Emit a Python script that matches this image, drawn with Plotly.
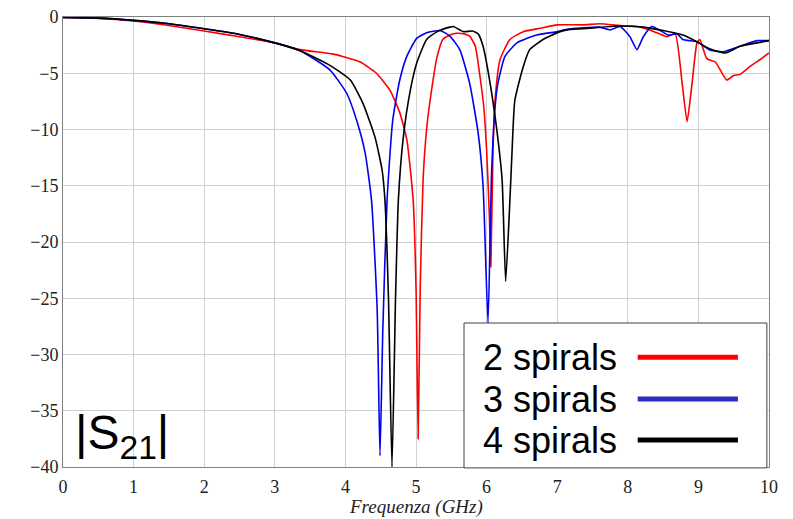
import plotly.graph_objects as go

# ---------------- data ----------------
freq_2 = [0, 0.5, 1, 1.5, 2, 2.5, 3, 3.36, 3.83, 4.21, 4.44, 4.63, 4.77, 4.87, 4.96, 5.0, 5.03,
          5.06, 5.10, 5.15, 5.2, 5.3, 5.38, 5.48, 5.58, 5.68, 5.76, 5.84, 5.9, 5.96, 6.0, 6.04,
          6.06, 6.09, 6.12, 6.19, 6.33, 6.52, 6.76, 7.0, 7.37, 7.6, 7.93, 8.13, 8.31, 8.45, 8.55,
          8.67, 8.77, 8.84, 8.91, 8.98, 9.02, 9.12, 9.24, 9.4, 9.5, 9.59, 9.73, 9.87, 10]
s21_2 = [-0.05, -0.12, -0.35, -0.75, -1.25, -1.75, -2.3, -2.9, -3.3, -4.0, -5.0, -6.5, -8.5, -10.9,
         -16.3, -24, -37.5, -24, -14.5, -10, -7.4, -3.5, -2.0, -1.6, -1.45, -1.5, -1.7, -2.6, -5.0,
         -8.0, -11.8, -17.8, -22.2, -12, -7.4, -3.8, -2.0, -1.3, -1.0, -0.7, -0.7, -0.6, -0.8,
         -0.85, -1.15, -1.5, -1.75, -1.5, -5.9, -9.3, -5.9, -2.3, -2.0, -3.7, -4.0, -5.6, -5.2,
         -5.1, -4.4, -3.8, -3.2]

freq_3 = [0, 0.5, 1, 1.5, 2, 2.5, 3, 3.36, 3.78, 4.02, 4.16, 4.28, 4.37, 4.45, 4.49, 4.53, 4.59,
          4.67, 4.77, 4.87, 5.01, 5.15, 5.34, 5.48, 5.62, 5.76, 5.88, 5.95, 6.02, 6.07, 6.12, 6.16,
          6.26, 6.43, 6.71, 7.0, 7.14, 7.6, 7.75, 7.89, 8.03, 8.13, 8.22, 8.34, 8.46, 8.57, 8.7,
          8.78, 8.98, 9.15, 9.35, 9.59, 9.83, 10]
s21_3 = [-0.05, -0.1, -0.3, -0.6, -1.05, -1.55, -2.3, -3.0, -4.7, -6.8, -9.2, -12.1, -16.3, -26,
         -39, -27.8, -16.3, -9.2, -5.6, -3.5, -1.9, -1.4, -1.2, -1.7, -2.9, -5.9, -10.3, -15,
         -27.2, -14, -8, -5.9, -3.5, -2.3, -1.6, -1.3, -1.1, -0.9, -1.15, -0.85, -1.75, -2.9,
         -1.75, -0.85, -1.2, -1.6, -1.5, -2.0, -2.2, -2.9, -3.1, -2.6, -2.1, -2.1]

freq_4 = [0, 0.5, 1, 1.5, 2, 2.5, 3, 3.36, 3.78, 4.07, 4.25, 4.42, 4.52, 4.56, 4.61, 4.66, 4.71,
          4.75, 4.82, 4.92, 5.01, 5.15, 5.3, 5.48, 5.53, 5.67, 5.8, 5.88, 5.95, 6.05, 6.15, 6.22,
          6.27, 6.33, 6.36, 6.4, 6.52, 6.61, 6.8, 7.04, 7.18, 7.46, 7.85, 8.22, 8.5, 8.78, 8.98,
          9.15, 9.38, 9.59, 9.83, 10]
s21_4 = [-0.05, -0.1, -0.3, -0.6, -1.05, -1.55, -2.3, -3.0, -4.3, -5.6, -7.7, -10.7, -13.6, -16.3,
         -25, -40, -25, -16.3, -10.7, -6.5, -4.1, -2.0, -1.3, -0.9, -0.85, -1.3, -1.25, -1.5, -2.6,
         -5.9, -10.3, -14.5, -23.5, -16.3, -12, -7.4, -4.4, -2.9, -2.0, -1.3, -1.1, -1.0, -0.8,
         -0.9, -1.2, -1.6, -2.2, -2.8, -3.2, -2.6, -2.3, -2.1]

series_names = ["2 spirals", "3 spirals", "4 spirals"]
line_colors = ["#ff0000", "#0000ee", "#000000"]
legend_colors = ["#ff0000", "#2f2fbf", "#000000"]

x_ticks = list(range(0, 11))
y_ticks = list(range(-40, 1, 5))

# ---------------- figure ----------------
fig = go.Figure()
for fx, fy, name, col in zip([freq_2, freq_3, freq_4], [s21_2, s21_3, s21_4], series_names, line_colors):
    fig.add_trace(go.Scatter(x=fx, y=fy, mode="lines", name=name,
                             line=dict(color=col, width=1.6, shape="spline", smoothing=0.5),
                             showlegend=False))

serif = "Liberation Serif, DejaVu Serif, serif"
tick_font = dict(family=serif, size=18, color="#222222")
fig.update_layout(
    width=793, height=519,
    margin=dict(l=63, r=24, t=17, b=52),
    paper_bgcolor="white", plot_bgcolor="white",
    xaxis=dict(range=[0, 10], tickvals=x_ticks, showgrid=True, gridcolor="#d0d0d0", gridwidth=1,
               showline=True, linecolor="#808080", linewidth=1, mirror=True, zeroline=False,
               tickfont=tick_font, ticks="", ticklabelstandoff=3, automargin=False),
    yaxis=dict(range=[-40, 0], tickvals=y_ticks, showgrid=True, gridcolor="#d0d0d0", gridwidth=1,
               showline=True, linecolor="#808080", linewidth=1, mirror=True, zeroline=False,
               tickfont=tick_font, ticks="", automargin=False),
)

# x-axis title placed below the tick labels
fig.add_annotation(xref="paper", yref="paper", x=0.5, y=-0.089, text="<i>Frequenza (GHz)</i>",
                   showarrow=False, xanchor="center", yanchor="middle",
                   font=dict(family=serif, size=19, color="#222222"))

# legend box (custom, label then line sample)
fig.add_shape(type="rect", xref="paper", yref="paper", x0=0.568, x1=0.997, y0=-0.002, y1=0.32,
              line=dict(color="#404040", width=1), fillcolor="white", layer="above")
row_y = [0.244, 0.151, 0.06]
for name, col, ry in zip(series_names, legend_colors, row_y):
    fig.add_annotation(xref="paper", yref="paper", x=0.592, y=ry, text=name, showarrow=False,
                       xanchor="left", yanchor="middle",
                       font=dict(family="Liberation Sans, Arial, sans-serif", size=36, color="black"))
    fig.add_shape(type="line", xref="paper", yref="paper", x0=0.814, x1=0.956, y0=ry, y1=ry,
                  line=dict(color=col, width=5), layer="above")

fig.add_annotation(xref="paper", yref="paper", x=0.014, y=0.07, text="|S<sub>21</sub>|",
                   showarrow=False, xanchor="left", yanchor="middle",
                   font=dict(family="Liberation Sans, Arial, sans-serif", size=48, color="black"))

fig.write_html("out.html")
